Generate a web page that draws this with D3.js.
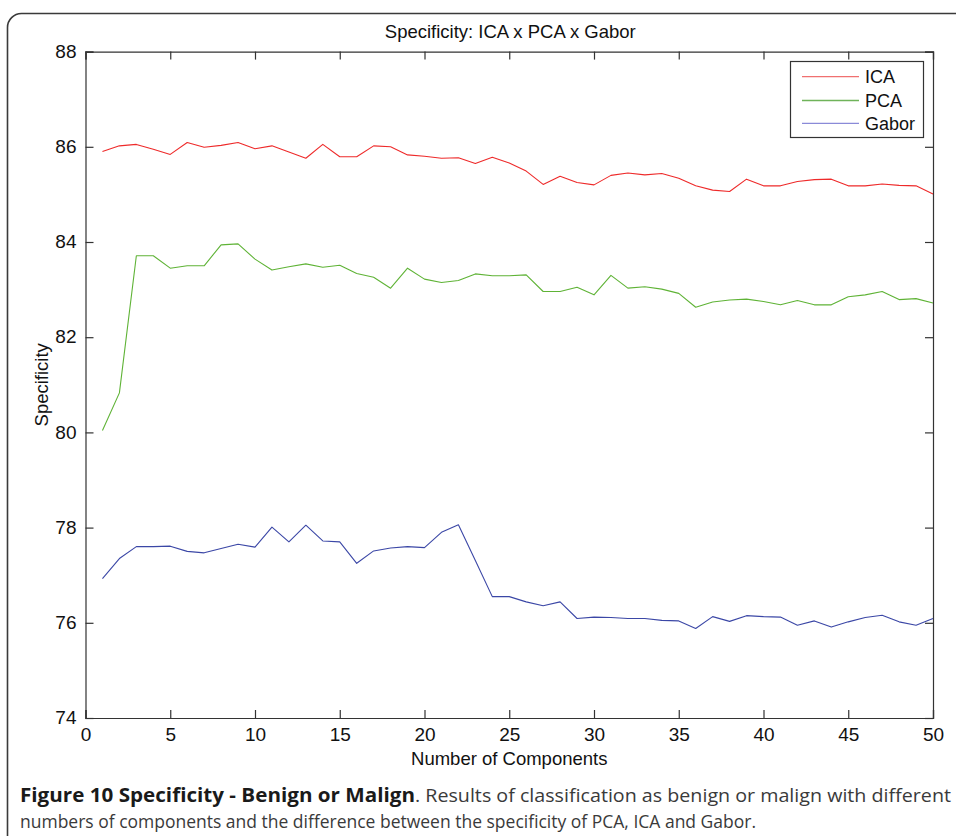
<!DOCTYPE html>
<html>
<head>
<meta charset="utf-8">
<script src="https://cdn.jsdelivr.net/npm/d3@7"></script>
<style>
  html, body { margin: 0; padding: 0; background: #fff; }
  svg { display: block; }
</style>
</head>
<body>
<svg id="chart" width="956" height="836"></svg>
<script>
// Number of components (x) for each measurement
const components = d3.range(1, 51);

// Specificity values (%) per method
const icaValues = [
  85.90, 86.02, 86.05, 85.95, 85.84, 86.09, 85.99, 86.03, 86.09, 85.96,
  86.02, 85.89, 85.76, 86.05, 85.79, 85.79, 86.02, 86.00, 85.83, 85.80,
  85.76, 85.77, 85.65, 85.78, 85.66, 85.49, 85.21, 85.38, 85.25, 85.20,
  85.40, 85.45, 85.41, 85.44, 85.34, 85.18, 85.09, 85.06, 85.32, 85.18,
  85.18, 85.27, 85.31, 85.32, 85.18, 85.18, 85.22, 85.19, 85.18, 85.01
];
const pcaValues = [
  80.04, 80.83, 83.71, 83.71, 83.45, 83.50, 83.50, 83.94, 83.96, 83.64,
  83.41, 83.48, 83.54, 83.47, 83.51, 83.34, 83.26, 83.03, 83.45, 83.22,
  83.15, 83.19, 83.33, 83.29, 83.29, 83.31, 82.96, 82.96, 83.05, 82.89,
  83.30, 83.03, 83.06, 83.01, 82.92, 82.63, 82.74, 82.78, 82.80, 82.75,
  82.68, 82.77, 82.68, 82.68, 82.85, 82.89, 82.96, 82.79, 82.81, 82.72
];
const gaborValues = [
  76.93, 77.35, 77.60, 77.60, 77.61, 77.50, 77.47, 77.56, 77.65, 77.59,
  78.01, 77.70, 78.05, 77.72, 77.70, 77.25, 77.51, 77.57, 77.60, 77.58,
  77.90, 78.06, 77.31, 76.55, 76.55, 76.44, 76.36, 76.44, 76.09, 76.12,
  76.11, 76.09, 76.09, 76.05, 76.04, 75.88, 76.13, 76.03, 76.15, 76.13,
  76.12, 75.95, 76.04, 75.91, 76.02, 76.11, 76.16, 76.02, 75.95, 76.09
];

const seriesNames = ["ICA", "PCA", "Gabor"];
const seriesColors = ["#ee2a2a", "#5fb336", "#3b47a6"];
const legendColors = ["#f07070", "#6fb35a", "#8a8ad8"];

const xTicks = [0, 5, 10, 15, 20, 25, 30, 35, 40, 45, 50];
const yTicks = [74, 76, 78, 80, 82, 84, 86, 88];

const titleText = "Specificity: ICA x PCA x Gabor";
const xLabel = "Number of Components";
const yLabel = "Specificity";
const captionBold = "Figure 10 Specificity - Benign or Malign";
const captionRest = ". Results of classification as benign or malign with different";
const captionLine2 = "numbers of components and the difference between the specificity of PCA, ICA and Gabor.";

const svg = d3.select("#chart");

// Rounded frame around the figure (runs off the right and bottom edges)
svg.append("rect")
  .attr("x", 7.5).attr("y", 13.5)
  .attr("width", 1000).attr("height", 900)
  .attr("rx", 14).attr("ry", 14)
  .attr("fill", "#fff")
  .attr("stroke", "#3a3a3a")
  .attr("stroke-width", 1.6);

const plot = { left: 85.5, right: 933, top: 51.6, bottom: 718 };

const x = d3.scaleLinear().domain([0, 50]).range([plot.left, plot.right]);
const y = d3.scaleLinear().domain([74, 88]).range([plot.bottom, plot.top]);

const fontAxis = "Liberation Sans, Arial, Helvetica, sans-serif";
const tickLen = 8;

// Axes: labelled bottom/left, plain top/right, ticks pointing inward
const gBottom = svg.append("g").attr("transform", `translate(0,${plot.bottom})`)
  .call(d3.axisBottom(x).tickValues(xTicks).tickSize(-tickLen).tickPadding(tickLen + 2).tickFormat(d3.format("d")));
const gLeft = svg.append("g").attr("transform", `translate(${plot.left},0)`)
  .call(d3.axisLeft(y).tickValues(yTicks).tickSize(-tickLen).tickPadding(tickLen + 1).tickFormat(d3.format("d")));
const gTop = svg.append("g").attr("transform", `translate(0,${plot.top})`)
  .call(d3.axisTop(x).tickValues(xTicks).tickSize(-tickLen).tickFormat(""));
const gRight = svg.append("g").attr("transform", `translate(${plot.right},0)`)
  .call(d3.axisRight(y).tickValues(yTicks).tickSize(-tickLen).tickFormat(""));

[gBottom, gLeft, gTop, gRight].forEach(g => {
  g.select(".domain").attr("stroke", "#333").attr("stroke-width", 1.2);
  g.selectAll(".tick line").attr("stroke", "#333").attr("stroke-width", 1.2);
  g.selectAll(".tick text")
    .attr("fill", "#111")
    .style("font-family", fontAxis)
    .style("font-size", "19px");
});
gBottom.selectAll(".tick text").attr("dy", "0.71em");
gLeft.selectAll(".tick text").attr("dy", "0.3em");

// Data lines
const allSeries = [icaValues, pcaValues, gaborValues];
const line = d3.line().x((d, i) => x(components[i])).y(d => y(d));
allSeries.forEach((vals, k) => {
  svg.append("path")
    .datum(vals)
    .attr("fill", "none")
    .attr("stroke", seriesColors[k])
    .attr("stroke-width", 1.1)
    .attr("stroke-linejoin", "round")
    .attr("d", line);
});

// Title and axis labels
svg.append("text")
  .attr("x", (plot.left + plot.right) / 2 + 1).attr("y", 38)
  .attr("text-anchor", "middle")
  .style("font-family", fontAxis).style("font-size", "18.5px")
  .attr("fill", "#111")
  .text(titleText);

svg.append("text")
  .attr("x", (plot.left + plot.right) / 2).attr("y", 765)
  .attr("text-anchor", "middle")
  .style("font-family", fontAxis).style("font-size", "18.5px")
  .attr("fill", "#111")
  .text(xLabel);

svg.append("text")
  .attr("transform", `translate(48,${(plot.top + plot.bottom) / 2}) rotate(-90)`)
  .attr("text-anchor", "middle")
  .style("font-family", fontAxis).style("font-size", "18.5px")
  .attr("fill", "#111")
  .text(yLabel);

// Legend
const legend = svg.append("g");
legend.append("rect")
  .attr("x", 790.5).attr("y", 61.5)
  .attr("width", 133).attr("height", 76)
  .attr("fill", "#fff").attr("stroke", "#333").attr("stroke-width", 1.2);
const legendRows = [76.7, 100.5, 123.3];
seriesNames.forEach((name, k) => {
  legend.append("line")
    .attr("x1", 802).attr("x2", 859)
    .attr("y1", legendRows[k]).attr("y2", legendRows[k])
    .attr("stroke", legendColors[k]).attr("stroke-width", 1.3);
  legend.append("text")
    .attr("x", 865).attr("y", legendRows[k] + 6.5)
    .style("font-family", fontAxis).style("font-size", "18px")
    .attr("fill", "#111")
    .text(name);
});

// Caption below the chart
const fontCaption = "'Open Sans', 'Noto Sans', sans-serif";
const cap1 = svg.append("text")
  .attr("x", 20).attr("y", 802)
  .style("font-family", fontCaption).style("font-size", "19px");
cap1.append("tspan")
  .attr("font-weight", "bold").attr("fill", "#1a1a1a")
  .attr("textLength", 395).attr("lengthAdjust", "spacingAndGlyphs")
  .text(captionBold);
cap1.append("tspan")
  .attr("fill", "#3a3a3a")
  .attr("textLength", 536).attr("lengthAdjust", "spacingAndGlyphs")
  .text(captionRest);

svg.append("text")
  .attr("x", 20).attr("y", 828)
  .style("font-family", fontCaption).style("font-size", "19px")
  .attr("fill", "#3a3a3a")
  .attr("textLength", 736).attr("lengthAdjust", "spacingAndGlyphs")
  .text(captionLine2);
</script>
</body>
</html>
